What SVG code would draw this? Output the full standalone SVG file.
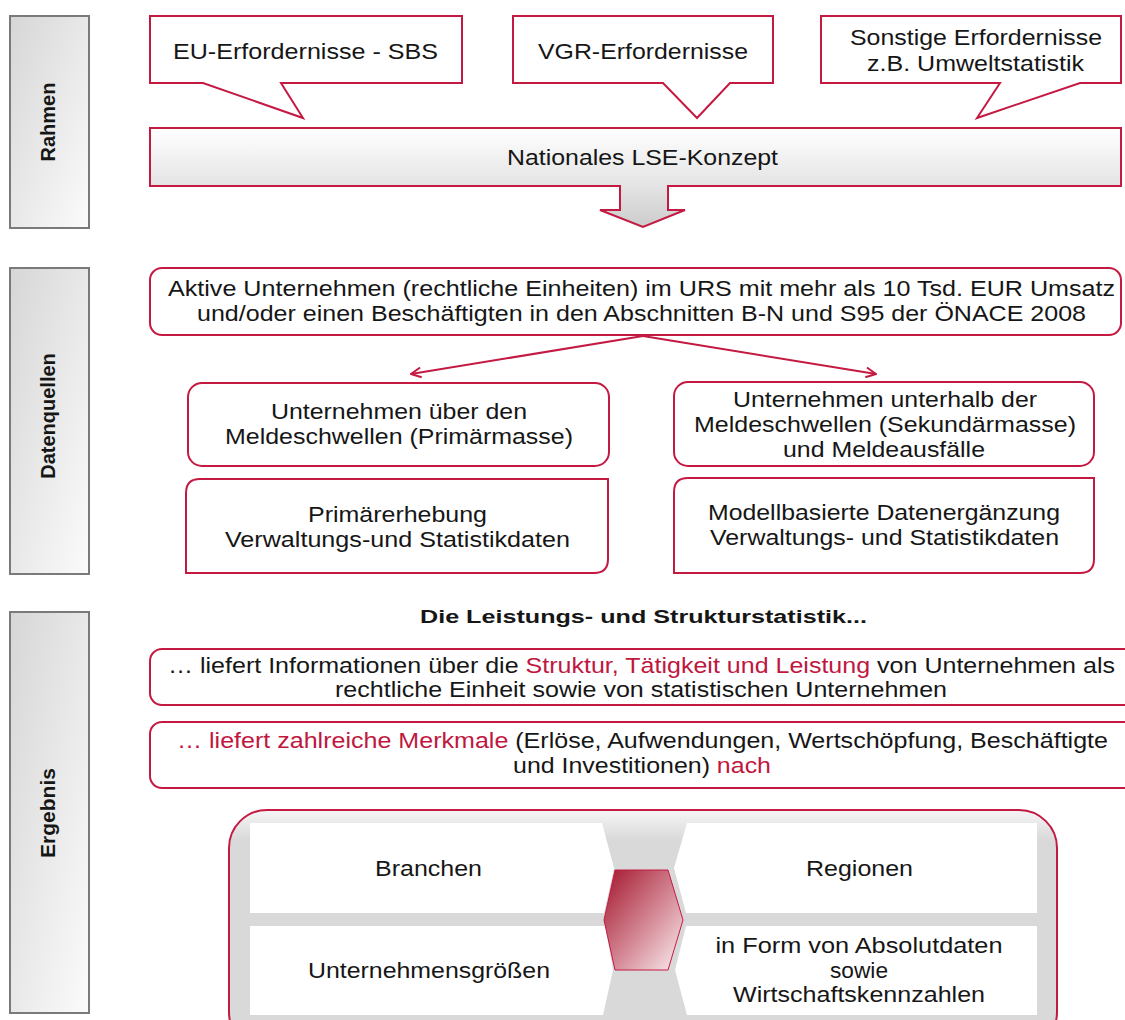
<svg xmlns="http://www.w3.org/2000/svg" width="1125" height="1020" viewBox="0 0 1125 1020">
<style>
text{font-family:"Liberation Sans",Arial,sans-serif;fill:#161616}
.t{font-size:22px;text-anchor:middle}
.side{font-size:20px;font-weight:bold;text-anchor:middle}
.bar{fill:url(#gBar);stroke:#7a7a7a;stroke-width:2}
.box{fill:#fff;stroke:#c41a42;stroke-width:2}
.red{fill:#c0173f}
.panel{fill:#fff}
.conn{fill:none;stroke:#c41a42;stroke-width:2}
</style>
<defs>
<linearGradient id="gBar" x1="0" y1="0" x2="1" y2="1"><stop offset="0" stop-color="#d6d6d6"/><stop offset="1" stop-color="#fbfbfb"/></linearGradient>
<linearGradient id="gLse" gradientUnits="userSpaceOnUse" x1="0" y1="128" x2="0" y2="227"><stop offset="0" stop-color="#ffffff"/><stop offset="0.58" stop-color="#e4e4e4"/><stop offset="1" stop-color="#cccccc"/></linearGradient>
<linearGradient id="gCont" gradientUnits="userSpaceOnUse" x1="0" y1="810" x2="0" y2="840"><stop offset="0" stop-color="#f6f6f6"/><stop offset="1" stop-color="#d9d9d9"/></linearGradient>
<linearGradient id="gHex" x1="0" y1="0" x2="1" y2="1"><stop offset="0" stop-color="#a3162c"/><stop offset="0.55" stop-color="#d58a97"/><stop offset="1" stop-color="#fbf1f2"/></linearGradient>
<marker id="arr" viewBox="0 0 12 12" refX="11" refY="6" markerWidth="12" markerHeight="12" markerUnits="userSpaceOnUse" orient="auto"><path d="M1,1 L11,6 L1,11" fill="none" stroke="#c41a42" stroke-width="2"/></marker>
</defs>

<g id="bar-rahmen"><rect class="bar" x="10" y="16" width="79" height="212"/><text class="side" transform="translate(55,122) rotate(-90)">Rahmen</text></g>
<g id="bar-datenquellen"><rect class="bar" x="10" y="268" width="79" height="306"/><text class="side" transform="translate(55,416) rotate(-90)">Datenquellen</text></g>
<g id="bar-ergebnis"><rect class="bar" x="10" y="612" width="79" height="401"/><text class="side" style="font-size:21px" transform="translate(55,813) rotate(-90)">Ergebnis</text></g>

<g id="eu"><path class="box" d="M150,16 H462 V83 H281 L303,118 L203,83 H150 Z"/><text class="t" x="305.5" y="59" textLength="265" lengthAdjust="spacingAndGlyphs">EU-Erfordernisse - SBS</text></g>
<g id="vgr"><path class="box" d="M513,16 H773 V83 H730 L697,118 L663,83 H513 Z"/><text class="t" x="643" y="59" textLength="210" lengthAdjust="spacingAndGlyphs">VGR-Erfordernisse</text></g>
<g id="sonstige"><path class="box" d="M821,16 H1121 V83 H1080 L977,118 L1000,83 H821 Z"/><text class="t" x="976" y="45" textLength="252" lengthAdjust="spacingAndGlyphs">Sonstige Erfordernisse</text><text class="t" x="975.5" y="71" textLength="217" lengthAdjust="spacingAndGlyphs">z.B. Umweltstatistik</text></g>
<g id="lse"><path d="M150,128 H1121 V186 H668 V210 H685 L643,227 L600,210 H620 V186 H150 Z" fill="url(#gLse)" stroke="#c41a42" stroke-width="2"/><text class="t" x="642.5" y="165" textLength="271" lengthAdjust="spacingAndGlyphs">Nationales LSE-Konzept</text></g>

<g id="aktive"><rect class="box" x="150" y="268" width="971" height="67" rx="12"/>
<text class="t" x="641.5" y="296" textLength="947" lengthAdjust="spacingAndGlyphs">Aktive Unternehmen (rechtliche Einheiten) im URS mit mehr als 10 Tsd. EUR Umsatz</text>
<text class="t" x="641.5" y="321" textLength="889" lengthAdjust="spacingAndGlyphs">und/oder einen Beschäftigten in den Abschnitten B-N und S95 der ÖNACE 2008</text></g>

<g id="connectors">
<line class="conn" x1="643" y1="336" x2="411" y2="374" marker-end="url(#arr)"/>
<line class="conn" x1="643" y1="336" x2="876" y2="374" marker-end="url(#arr)"/>
</g>

<g id="primaermasse"><rect class="box" x="188" y="383" width="421" height="83" rx="14"/>
<text class="t" x="399" y="419" textLength="256" lengthAdjust="spacingAndGlyphs">Unternehmen über den</text>
<text class="t" x="399" y="444" textLength="348" lengthAdjust="spacingAndGlyphs">Meldeschwellen (Primärmasse)</text></g>
<g id="sekundaermasse"><rect class="box" x="674" y="382" width="420" height="84" rx="14"/>
<text class="t" x="885" y="407" textLength="304" lengthAdjust="spacingAndGlyphs">Unternehmen unterhalb der</text>
<text class="t" x="885" y="432" textLength="382" lengthAdjust="spacingAndGlyphs">Meldeschwellen (Sekundärmasse)</text>
<text class="t" x="884" y="457" textLength="202" lengthAdjust="spacingAndGlyphs">und Meldeausfälle</text></g>
<g id="primaererhebung"><path class="box" d="M200,479 H608 V559 Q608,573 594,573 H186 V493 Q186,479 200,479 Z"/>
<text class="t" x="397.5" y="522" textLength="179" lengthAdjust="spacingAndGlyphs">Primärerhebung</text>
<text class="t" x="397.5" y="547" textLength="345" lengthAdjust="spacingAndGlyphs">Verwaltungs-und Statistikdaten</text></g>
<g id="modell"><path class="box" d="M688,478 H1094 V559 Q1094,573 1080,573 H674 V492 Q674,478 688,478 Z"/>
<text class="t" x="884" y="520" textLength="352" lengthAdjust="spacingAndGlyphs">Modellbasierte Datenergänzung</text>
<text class="t" x="884.5" y="545" textLength="349" lengthAdjust="spacingAndGlyphs">Verwaltungs- und Statistikdaten</text></g>

<g id="titel"><text x="643.5" y="623" style="font-size:18px;font-weight:bold;text-anchor:middle" textLength="447" lengthAdjust="spacingAndGlyphs">Die Leistungs- und Strukturstatistik...</text></g>
<g id="info1"><rect class="box" x="150" y="649" width="1000" height="56" rx="12"/>
<text class="t" x="641.5" y="673" textLength="947" lengthAdjust="spacingAndGlyphs">… liefert Informationen über die <tspan class="red">Struktur, Tätigkeit und Leistung</tspan> von Unternehmen als</text>
<text class="t" x="641" y="697" textLength="612" lengthAdjust="spacingAndGlyphs">rechtliche Einheit sowie von statistischen Unternehmen</text></g>
<g id="info2"><rect class="box" x="150" y="722" width="1000" height="66" rx="12"/>
<text class="t" x="642.5" y="748" textLength="931" lengthAdjust="spacingAndGlyphs"><tspan class="red">… liefert zahlreiche Merkmale</tspan> (Erlöse, Aufwendungen, Wertschöpfung, Beschäftigte</text>
<text class="t" x="642" y="773" textLength="258" lengthAdjust="spacingAndGlyphs">und Investitionen) <tspan class="red">nach</tspan></text></g>

<g id="gliederung">
<rect x="229" y="810" width="828" height="240" rx="38" fill="url(#gCont)" stroke="#c41a42" stroke-width="2"/>
<g id="branchen"><path class="panel" d="M250,823 H602 L614,868 L604,913 H250 Z"/><text class="t" x="428.5" y="876" textLength="107" lengthAdjust="spacingAndGlyphs">Branchen</text></g>
<g id="regionen"><path class="panel" d="M1037,823 V913 H686 L674,868 L687,823 Z"/><text class="t" x="859.5" y="876" textLength="107" lengthAdjust="spacingAndGlyphs">Regionen</text></g>
<g id="groessen"><path class="panel" d="M250,926 H605 L613,970 L603,1015 H250 Z"/><text class="t" x="429" y="978" textLength="242" lengthAdjust="spacingAndGlyphs">Unternehmensgrößen</text></g>
<g id="form"><path class="panel" d="M1037,926 V1015 H687 L675,970 L686,926 Z"/>
<text class="t" x="859" y="953" textLength="287" lengthAdjust="spacingAndGlyphs">in Form von Absolutdaten</text>
<text class="t" x="859" y="978" textLength="58" lengthAdjust="spacingAndGlyphs">sowie</text>
<text class="t" x="859" y="1002" textLength="252" lengthAdjust="spacingAndGlyphs">Wirtschaftskennzahlen</text></g>
<g id="hexagon"><polygon points="615,870 668,870 683,920 668,970 615,970 604,920" fill="url(#gHex)" stroke="#c41a42" stroke-width="1"/></g>
</g>
</svg>
